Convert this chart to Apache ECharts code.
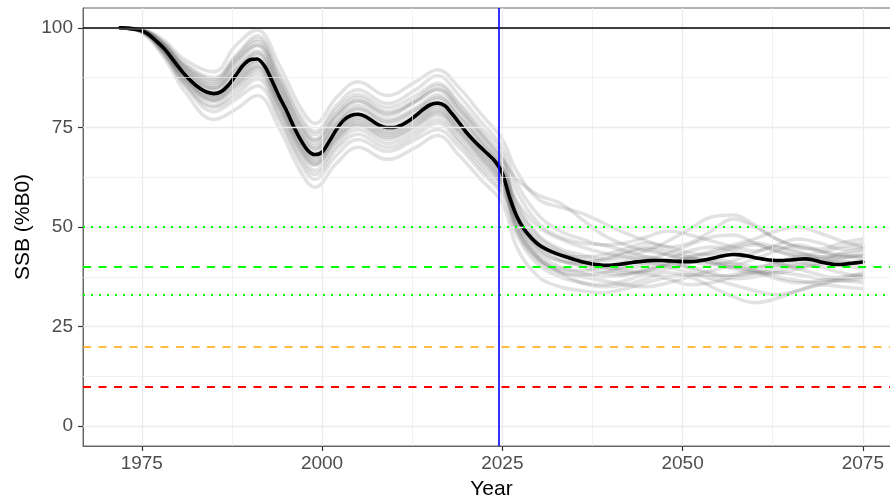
<!DOCTYPE html>
<html>
<head>
<meta charset="utf-8">
<title>SSB (%B0)</title>
<script src="https://cdn.jsdelivr.net/npm/echarts@6/dist/echarts.min.js"></script>
<style>
  html, body { margin: 0; padding: 0; background: #ffffff; overflow: hidden; }
  #chart { width: 890px; height: 502px; }
</style>
</head>
<body>
<div id="chart"></div>
<script>
// Median spawning biomass (% of unfished), one value per year from firstYear
const firstYear = 1972;
const medianSSB = [
  100, 99.9, 99.7, 99.3, 98.3, 96.7, 95.0, 92.8, 90.4, 88.2,
  86.4, 84.9, 83.9, 83.5, 84.0, 85.6, 88.0, 90.5, 92.0, 92.2,
  90.5, 87.0, 83.0, 79.5, 75.5, 72.0, 69.3, 68.2, 68.8, 71.5,
  74.5, 76.8, 78.0, 78.3, 77.8, 76.6, 75.5, 75.0, 75.0, 75.6,
  76.6, 78.0, 79.5, 80.7, 81.1, 80.5, 78.5, 76.2, 73.8, 71.8,
  70.0, 68.3, 66.5, 63.5, 57.5, 52.7, 49.5, 47.3, 45.6, 44.5,
  43.7, 43.0, 42.4, 41.8, 41.3, 40.9, 40.6, 40.4, 40.4, 40.6,
  40.8, 41.1, 41.3, 41.5, 41.6, 41.6, 41.5, 41.4, 41.3, 41.3,
  41.4, 41.7, 42.1, 42.5, 42.9, 43.1, 43.0, 42.7, 42.3, 42.0,
  41.7, 41.6, 41.6, 41.7, 41.9, 42.0, 41.8, 41.3, 40.9, 40.6,
  40.6, 40.8, 41.0, 41.2
];

// Years at which each simulated trajectory is recorded
const simYears = [
  1972, 1975, 1978, 1981, 1985, 1988, 1991, 1994, 1997, 1999,
  2002, 2005, 2009, 2013, 2016, 2019, 2022, 2025, 2027, 2030,
  2033, 2036, 2039, 2042, 2045, 2048, 2051, 2054, 2057, 2060,
  2063, 2066, 2069, 2072, 2075
];

// Individual simulated trajectories (% of unfished)
const simRuns = [
  [100, 99.5, 96.5, 91, 87.5, 93, 98, 89, 78, 74, 80.5, 84.5, 81, 84.5, 88, 83, 76.5, 70, 61, 53, 49, 47, 45.5, 46, 47.5, 49, 48, 46.5, 45, 44, 45.5, 47, 46, 44.5, 45],
  [100, 99, 93.5, 85.5, 79, 82, 85.5, 77, 66, 62, 68, 72, 69, 72, 74.5, 70, 64, 58, 48, 40.5, 37.5, 36, 35.5, 36.5, 38, 37, 35.5, 36, 37.5, 38.5, 37, 36, 36.5, 37.5, 38],
  [100, 99.4, 95.8, 89.7, 85.5, 91, 95.5, 86, 75, 71, 77.5, 81.5, 78, 81.5, 84.5, 79.5, 73, 66, 56, 48, 44.5, 43, 42, 43.5, 45, 44, 42.5, 41, 40.5, 42, 44, 45.5, 44, 42.5, 43],
  [100, 99.2, 94.2, 86.8, 81.5, 85, 89, 80, 69, 65.5, 71.5, 75.5, 72, 75, 78, 73, 67, 60.5, 50.5, 43, 40, 38.5, 37.5, 38, 39.5, 41, 42, 41, 39.5, 38.5, 39, 40.5, 41.5, 40.5, 39.5],
  [100, 99.3, 95.3, 88.8, 84.5, 89, 93.2, 84, 73, 69.2, 75.5, 79.5, 76, 79, 82.2, 77.5, 71, 64.5, 56.5, 50, 47, 45, 43.5, 42.5, 42, 43.5, 45.5, 47.5, 48, 46, 44, 43, 43.5, 45, 46],
  [100, 99.3, 94.6, 87.5, 82.5, 86.5, 90.5, 81.5, 70.5, 66.7, 73, 76.8, 73.5, 76.5, 79.5, 74.5, 68.5, 62, 50, 42, 39, 38, 38.5, 40, 41, 40, 38.5, 37.5, 38, 39.5, 40.5, 39.5, 38, 37, 37.5],
  [100, 99.6, 97, 92, 89, 95.5, 99.5, 91, 80, 76, 82.5, 86.5, 83, 86.5, 89.5, 85, 78.5, 72, 64, 57, 55, 53.5, 51, 48.5, 46.5, 45, 46, 49, 52, 50, 47, 45, 44.5, 46, 47],
  [100, 98.8, 92.8, 84, 77, 79.5, 83, 75, 64, 60, 66, 70, 67, 70, 73, 68, 62, 56, 45, 37.5, 35, 34, 33.5, 34.5, 36, 37.5, 38, 37, 35.5, 34, 33, 34, 35.5, 36.5, 36],
  [100, 99.5, 96, 90.2, 86.5, 92, 96.5, 87, 76, 72, 78.5, 82.5, 79, 82, 85.5, 80.5, 74, 67.5, 59, 51, 47.5, 46, 45.5, 44, 42.5, 41.5, 42.5, 44, 45.5, 47, 49, 50, 48.5, 46.5, 45],
  [100, 99.1, 93.9, 86.2, 80.5, 84, 88.2, 79, 68, 64.2, 70.5, 74.5, 71, 74, 77, 72, 66, 60, 49, 41.5, 38.5, 37.5, 36.5, 35.5, 35, 36, 37.5, 39, 40, 39, 37.5, 36.5, 36, 37, 38.5],
  [100, 99.4, 95.6, 89.3, 85, 90, 94.2, 85, 74, 70.2, 76.5, 80.5, 77, 80, 83.2, 78.5, 72, 65, 53, 45.5, 43, 42.5, 43, 44.5, 46, 45, 43.5, 43, 44.5, 45.5, 44, 42.5, 42, 43.5, 44.5],
  [100, 99.2, 94.5, 87.2, 82, 86, 90.2, 81, 70, 66.2, 72.5, 76.3, 73, 76, 79, 74.2, 68, 61.5, 52, 44.5, 41.5, 40.5, 40, 39, 38.5, 39.5, 41, 42, 41, 40, 41, 42.5, 42.5, 41.5, 40.5],
  [100, 99.3, 95, 88.2, 83.5, 88, 92.2, 83, 72, 68.2, 74.5, 78.3, 75, 78, 81.1, 76.2, 70, 63.5, 54, 46.5, 43.5, 41.5, 40, 39.5, 40.5, 42, 44, 45, 44, 42.5, 41, 40, 40.5, 42, 43],
  [100, 99.3, 94.8, 88, 83, 87.5, 91.7, 82.5, 71.5, 67.7, 74, 77.8, 74.5, 77.5, 80.6, 75.7, 69.5, 63, 51, 42.5, 38.5, 36, 35, 35.5, 37, 38.5, 37.5, 35, 32.5, 31, 32, 34, 35.5, 35, 34.5],
  [100, 99.5, 96.2, 90.6, 87, 92.5, 97.2, 88, 77, 73.2, 79.5, 83.3, 80, 83, 86.1, 81.2, 75, 68.5, 52.5, 44, 41.5, 41, 42, 43.5, 44.5, 43, 41.5, 40.5, 41.5, 43.5, 45, 44, 42, 41, 41.5],
  [100, 99, 93.7, 85.7, 80, 83, 87.2, 78, 67, 63.2, 69.5, 73.3, 70, 73, 76.1, 71.2, 65, 59, 51.5, 45, 42, 40, 38.5, 38, 39, 40.5, 40, 38.5, 37.5, 38.5, 40, 41, 40, 38.5, 37.5],
  [100, 99.4, 95.5, 89, 84.8, 89.5, 93.7, 84.5, 73.5, 69.7, 76, 79.8, 76.5, 79.5, 82.6, 77.7, 71.5, 65, 55, 47.5, 44, 42, 41.5, 42.5, 44, 46.5, 49.5, 52.5, 53, 50.5, 47, 45, 44, 43, 42.5],
  [100, 99.3, 94.7, 87.8, 82.8, 87, 91.2, 82, 71, 67.2, 73.5, 77.3, 74, 77, 80.1, 75.2, 69, 62.5, 53, 46, 43, 41, 39.5, 38.5, 39, 40.5, 42, 41.5, 40, 39, 38.5, 39.5, 41, 42.5, 42],
  [100, 99.5, 95.9, 90, 86, 91.5, 95.7, 86.5, 75.5, 71.7, 78, 81.8, 78.5, 81.5, 84.6, 79.7, 73.5, 67, 62, 58, 56, 52, 48, 45.5, 44, 43, 42.5, 43.5, 45, 46, 45, 43.5, 42.5, 43, 44],
  [100, 99.2, 94.3, 87, 81.8, 85.5, 89.7, 80.5, 69.5, 65.7, 72, 75.8, 72.5, 75.5, 78.6, 73.7, 67.5, 61, 49.5, 42, 39.5, 39, 40, 41.5, 42.5, 41.5, 39.5, 38, 37, 37.5, 38.5, 38, 37, 36.5, 37]
];

// Axis ticks and gridline positions
const xTicks = [1975, 2000, 2025, 2050, 2075];
const xMinor = [1987.5, 2012.5, 2037.5, 2062.5];
const yTicks = [0, 25, 50, 75, 100];
const yMinor = [12.5, 37.5, 62.5, 87.5];

// Reference levels (% of unfished) and the final assessment year
const unfishedLevel = 100;
const upperTarget = 50;
const targetLevel = 40;
const lowerTarget = 33;
const softLimit = 20;
const hardLimit = 10;
const currentYear = 2024.5;

const FONT = "'Liberation Sans', Arial, sans-serif";

const chart = echarts.init(document.getElementById('chart'), null, { renderer: 'canvas' });

const medianData = medianSSB.map((v, i) => [firstYear + i, v]);

const noMarkSymbol = ['none', 'none'];
const gridMajor = { color: '#ebebeb', width: 1.3, type: 'solid' };
const gridMinor = { color: '#ebebeb', width: 0.7, type: 'solid' };
const plainNumber = v => String(v);

const series = [];

// Panel gridlines
series.push({
  type: 'line',
  data: [],
  z: 1,
  silent: true,
  markLine: {
    silent: true,
    symbol: noMarkSymbol,
    label: { show: false },
    animation: false,
    data: [
      ...xMinor.map(v => ({ xAxis: v, lineStyle: gridMinor })),
      ...yMinor.map(v => ({ yAxis: v, lineStyle: gridMinor })),
      ...xTicks.map(v => ({ xAxis: v, lineStyle: gridMajor })),
      ...yTicks.map(v => ({ yAxis: v, lineStyle: gridMajor }))
    ]
  }
});

// Simulated trajectories
simRuns.forEach(run => {
  series.push({
    type: 'line',
    data: run.map((v, i) => [simYears[i], v]),
    smooth: 0.4,
    symbol: 'none',
    silent: true,
    z: 2,
    lineStyle: { color: '#6e6e6e', opacity: 0.2, width: 3.5, cap: 'round', join: 'round' }
  });
});

// Reference levels
series.push({
  type: 'line',
  data: [],
  z: 3,
  silent: true,
  markLine: {
    silent: true,
    symbol: noMarkSymbol,
    label: { show: false },
    animation: false,
    data: [
      { yAxis: unfishedLevel, lineStyle: { color: '#000000', width: 1.5, type: 'solid' } },
      { yAxis: upperTarget, lineStyle: { color: '#00ff00', width: 2, type: [2, 6], cap: 'butt' } },
      { yAxis: targetLevel, lineStyle: { color: '#00ff00', width: 2, type: [8, 7.5], cap: 'butt' } },
      { yAxis: lowerTarget, lineStyle: { color: '#00ff00', width: 2, type: [2, 6], cap: 'butt' } },
      { yAxis: softLimit, lineStyle: { color: '#ffa500', width: 1.7, type: [8, 7.5], cap: 'butt' } },
      { yAxis: hardLimit, lineStyle: { color: '#ff0000', width: 2, type: [8, 7.5], cap: 'butt' } }
    ]
  }
});

// Median trajectory
series.push({
  type: 'line',
  data: medianData,
  smooth: 0.3,
  symbol: 'none',
  silent: true,
  z: 4,
  lineStyle: { color: '#000000', width: 3.6, cap: 'round', join: 'round' }
});

// Final assessment year
series.push({
  type: 'line',
  data: [],
  z: 5,
  silent: true,
  markLine: {
    silent: true,
    symbol: noMarkSymbol,
    label: { show: false },
    animation: false,
    data: [{ xAxis: currentYear, lineStyle: { color: '#0000ff', width: 1.6, type: 'solid' } }]
  }
});

const option = {
  animation: false,
  backgroundColor: '#ffffff',
  textStyle: { fontFamily: FONT },
  grid: {
    left: 83, width: 817, top: 8, height: 438,
    outerBoundsMode: 'none',
    containLabel: false,
    show: true, borderColor: '#666666', borderWidth: 1, backgroundColor: 'transparent'
  },
  xAxis: {
    type: 'value',
    min: 1966.85,
    max: 2080.15,
    name: 'Year',
    nameLocation: 'middle',
    nameGap: 33,
    nameMoveOverlap: false,
    nameTextStyle: { fontSize: 21, color: '#000000', fontFamily: FONT },
    axisLine: { show: true, onZero: false, lineStyle: { color: '#666666', width: 1 } },
    axisTick: { show: true, customValues: xTicks, length: 5, lineStyle: { color: '#333333', width: 1.2 } },
    axisLabel: { customValues: xTicks, formatter: plainNumber, fontSize: 19, color: '#4d4d4d', margin: 8, fontFamily: FONT },
    splitLine: { show: false },
    minorSplitLine: { show: false }
  },
  yAxis: {
    type: 'value',
    min: -5,
    max: 105,
    name: 'SSB (%B0)',
    nameLocation: 'middle',
    nameGap: 49,
    nameRotate: 90,
    nameMoveOverlap: false,
    nameTextStyle: { fontSize: 21, color: '#000000', fontFamily: FONT },
    axisLine: { show: true, onZero: false, lineStyle: { color: '#666666', width: 1 } },
    axisTick: { show: true, customValues: yTicks, length: 5, lineStyle: { color: '#333333', width: 1.2 } },
    axisLabel: { customValues: yTicks, formatter: plainNumber, fontSize: 19, color: '#4d4d4d', margin: 10, fontFamily: FONT },
    splitLine: { show: false },
    minorSplitLine: { show: false }
  },
  series: series
};

chart.setOption(option);
</script>
</body>
</html>
